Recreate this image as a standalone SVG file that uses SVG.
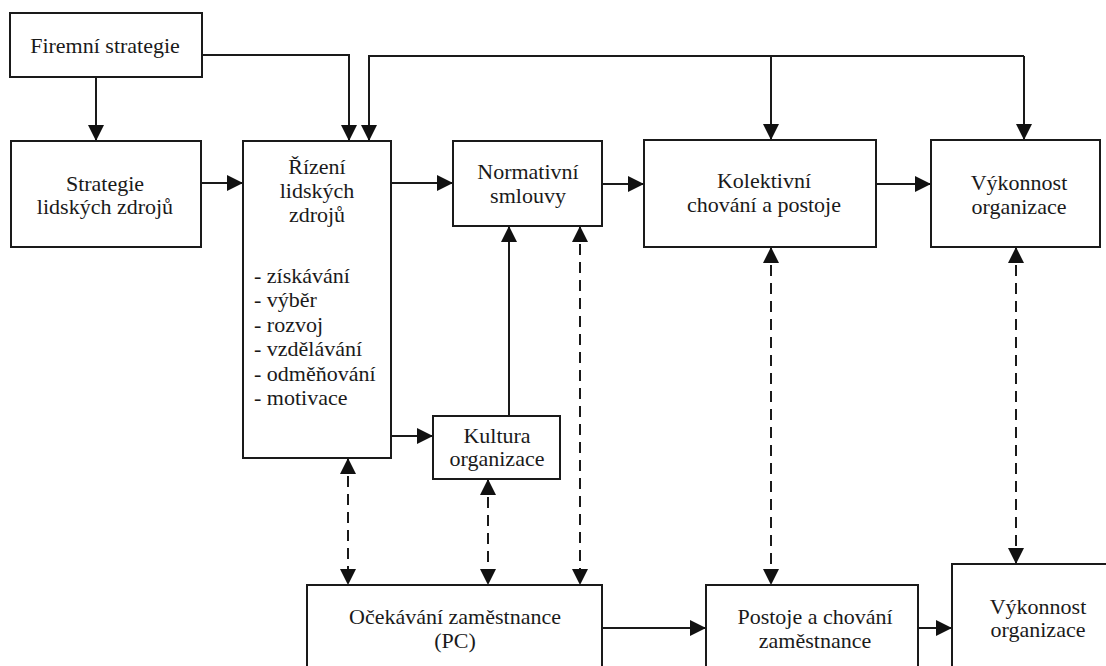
<svg xmlns="http://www.w3.org/2000/svg" width="1106" height="666" viewBox="0 0 1106 666">
<defs>
<marker id="ah" viewBox="0 0 16 16" refX="16" refY="8" markerWidth="16" markerHeight="16" markerUnits="userSpaceOnUse" orient="auto-start-reverse">
<path d="M0,0 L16,8 L0,16 z" fill="#111" stroke="none"/>
</marker>
</defs>
<rect width="1106" height="666" fill="#fff"/>
<g id="connectors" fill="none" stroke="#1a1a1a" stroke-width="2">
<g marker-end="url(#ah)">
<path d="M96,77 V141"/>
<path d="M202,55 H349 V141"/>
<path d="M1024,56 H369 V141"/>
<path d="M771,56 V140"/>
<path d="M1024,56 V140"/>
<path d="M201,183 H243"/>
<path d="M391,183 H453"/>
<path d="M602,184 H644"/>
<path d="M876,184 H931"/>
<path d="M391,436 H433"/>
<path d="M509,416 V226"/>
<path d="M602,628 H706"/>
<path d="M918,628 H952"/>
</g>
<g stroke-dasharray="11 7" marker-start="url(#ah)" marker-end="url(#ah)">
<path d="M348,458 V585"/>
<path d="M488,479 V585"/>
<path d="M580,226 V585"/>
<path d="M771,247 V585"/>
<path d="M1016,247 V564"/>
</g>
</g>
<g id="firemni">
<rect x="10" y="13" width="192" height="64" fill="#fff" stroke="#1a1a1a" stroke-width="2"/>
<text x="105" y="53" font-family="Liberation Serif" font-size="22" fill="#1a1a1a" text-anchor="middle">Firemní strategie</text>
</g>
<g id="strategie">
<rect x="11" y="141" width="190" height="106" fill="#fff" stroke="#1a1a1a" stroke-width="2"/>
<text x="105" y="191" font-family="Liberation Serif" font-size="22" fill="#1a1a1a" text-anchor="middle">Strategie</text>
<text x="105" y="214" font-family="Liberation Serif" font-size="22" fill="#1a1a1a" text-anchor="middle">lidských zdrojů</text>
</g>
<g id="rizeni">
<rect x="243" y="141" width="148" height="317" fill="#fff" stroke="#1a1a1a" stroke-width="2"/>
<text x="317" y="174" font-family="Liberation Serif" font-size="22" fill="#1a1a1a" text-anchor="middle">Řízení</text>
<text x="317" y="198" font-family="Liberation Serif" font-size="22" fill="#1a1a1a" text-anchor="middle">lidských</text>
<text x="317" y="222" font-family="Liberation Serif" font-size="22" fill="#1a1a1a" text-anchor="middle">zdrojů</text>
<text x="254" y="283" font-family="Liberation Serif" font-size="22" fill="#1a1a1a">- získávání</text>
<text x="254" y="307" font-family="Liberation Serif" font-size="22" fill="#1a1a1a">- výběr</text>
<text x="254" y="332" font-family="Liberation Serif" font-size="22" fill="#1a1a1a">- rozvoj</text>
<text x="254" y="356" font-family="Liberation Serif" font-size="22" fill="#1a1a1a">- vzdělávání</text>
<text x="254" y="381" font-family="Liberation Serif" font-size="22" fill="#1a1a1a">- odměňování</text>
<text x="254" y="405" font-family="Liberation Serif" font-size="22" fill="#1a1a1a">- motivace</text>
</g>
<g id="normativni">
<rect x="453" y="141" width="149" height="85" fill="#fff" stroke="#1a1a1a" stroke-width="2"/>
<text x="528" y="179" font-family="Liberation Serif" font-size="22" fill="#1a1a1a" text-anchor="middle">Normativní</text>
<text x="528" y="203" font-family="Liberation Serif" font-size="22" fill="#1a1a1a" text-anchor="middle">smlouvy</text>
</g>
<g id="kultura">
<rect x="433" y="416" width="127" height="63" fill="#fff" stroke="#1a1a1a" stroke-width="2"/>
<text x="497" y="443" font-family="Liberation Serif" font-size="22" fill="#1a1a1a" text-anchor="middle">Kultura</text>
<text x="497" y="466" font-family="Liberation Serif" font-size="22" fill="#1a1a1a" text-anchor="middle">organizace</text>
</g>
<g id="kolektivni">
<rect x="644" y="140" width="232" height="107" fill="#fff" stroke="#1a1a1a" stroke-width="2"/>
<text x="764" y="188" font-family="Liberation Serif" font-size="22" fill="#1a1a1a" text-anchor="middle">Kolektivní</text>
<text x="764" y="212" font-family="Liberation Serif" font-size="22" fill="#1a1a1a" text-anchor="middle">chování a postoje</text>
</g>
<g id="vykonnost1">
<rect x="931" y="140" width="169" height="107" fill="#fff" stroke="#1a1a1a" stroke-width="2"/>
<text x="1019" y="190" font-family="Liberation Serif" font-size="22" fill="#1a1a1a" text-anchor="middle">Výkonnost</text>
<text x="1019" y="214" font-family="Liberation Serif" font-size="22" fill="#1a1a1a" text-anchor="middle">organizace</text>
</g>
<g id="ocekavani">
<rect x="307" y="585" width="295" height="100" fill="#fff" stroke="#1a1a1a" stroke-width="2"/>
<text x="455" y="624" font-family="Liberation Serif" font-size="22" fill="#1a1a1a" text-anchor="middle">Očekávání zaměstnance</text>
<text x="455" y="648" font-family="Liberation Serif" font-size="22" fill="#1a1a1a" text-anchor="middle">(PC)</text>
</g>
<g id="postoje">
<rect x="706" y="585" width="212" height="100" fill="#fff" stroke="#1a1a1a" stroke-width="2"/>
<text x="815" y="624" font-family="Liberation Serif" font-size="22" fill="#1a1a1a" text-anchor="middle">Postoje a chování</text>
<text x="815" y="648" font-family="Liberation Serif" font-size="22" fill="#1a1a1a" text-anchor="middle">zaměstnance</text>
</g>
<g id="vykonnost2">
<rect x="952" y="564" width="170" height="120" fill="#fff" stroke="#1a1a1a" stroke-width="2"/>
<text x="1038" y="614" font-family="Liberation Serif" font-size="22" fill="#1a1a1a" text-anchor="middle">Výkonnost</text>
<text x="1038" y="637" font-family="Liberation Serif" font-size="22" fill="#1a1a1a" text-anchor="middle">organizace</text>
</g>
</svg>
